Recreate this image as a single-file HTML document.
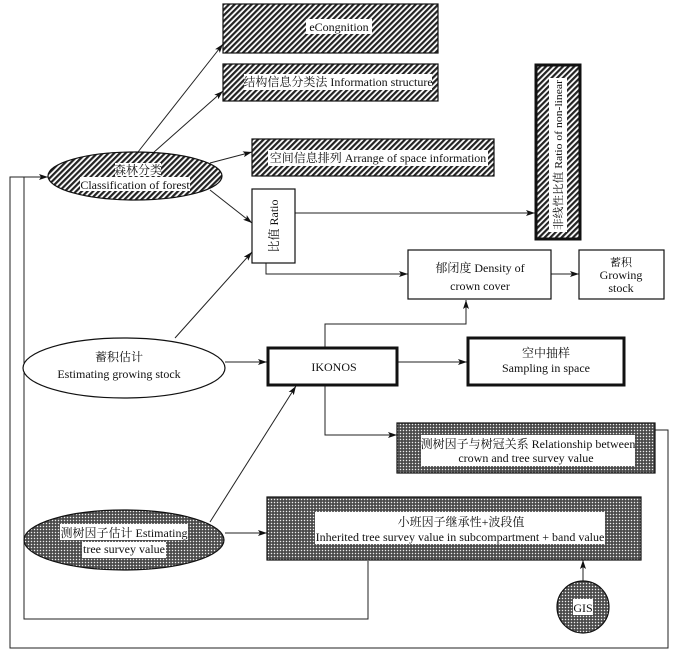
<!DOCTYPE html>
<html><head><meta charset="utf-8"><style>
html,body{margin:0;padding:0;background:#fff}
text{font-family:"Liberation Serif","Noto Serif CJK SC",serif;fill:#111}
</style></head><body>
<svg width="680" height="658" viewBox="0 0 680 658" xmlns="http://www.w3.org/2000/svg">
<defs>
<pattern id="h" width="4" height="4" patternUnits="userSpaceOnUse" patternTransform="rotate(45)">
<rect width="4" height="4" fill="#fff"/><rect width="2.2" height="4" fill="#222"/></pattern>
<pattern id="g" width="3" height="3" patternUnits="userSpaceOnUse">
<rect width="3" height="3" fill="#444"/><rect x="0.8" y="0.8" width="1.4" height="1.4" fill="#eee"/></pattern>
<marker id="a" markerWidth="10" markerHeight="8" refX="9" refY="4" orient="auto" markerUnits="userSpaceOnUse">
<path d="M0,1 L9,4 L0,7 L2,4z" fill="#111"/></marker>
</defs>
<g stroke="#222" stroke-width="1" fill="none">
<polyline points="655,430 668,430 668,648 10,648 10,177 48,177" marker-end="url(#a)"/>
<polyline points="368,561 368,619 24,619 24,177"/>
<line x1="138" y1="152" x2="223" y2="44" marker-end="url(#a)"/>
<line x1="153" y1="153" x2="223" y2="91" marker-end="url(#a)"/>
<line x1="210" y1="163" x2="252" y2="152" marker-end="url(#a)"/>
<line x1="210" y1="190" x2="252" y2="223" marker-end="url(#a)"/>
<line x1="175" y1="338" x2="252" y2="252" marker-end="url(#a)"/>
<line x1="295" y1="213" x2="535" y2="213" marker-end="url(#a)"/>
<polyline points="266,263 266,274 408,274" marker-end="url(#a)"/>
<line x1="551" y1="274" x2="579" y2="274" marker-end="url(#a)"/>
<polyline points="325,348 325,324 466,324 466,300" marker-end="url(#a)"/>
<line x1="225" y1="362" x2="267" y2="362" marker-end="url(#a)"/>
<line x1="397" y1="362" x2="467" y2="362" marker-end="url(#a)"/>
<polyline points="325,385 325,435 397,435" marker-end="url(#a)"/>
<line x1="210" y1="522" x2="296" y2="386" marker-end="url(#a)"/>
<line x1="225" y1="533" x2="267" y2="533" marker-end="url(#a)"/>
<line x1="583" y1="582" x2="583" y2="560" marker-end="url(#a)"/>
</g>
<g stroke="#111" stroke-width="1.2">
<rect x="223" y="4" width="215" height="49" fill="url(#h)"/>
<rect x="223" y="64" width="215" height="37" fill="url(#h)"/>
<rect x="252" y="139" width="242" height="37" fill="url(#h)"/>
<rect x="536" y="65" width="44" height="174" fill="url(#h)" stroke-width="3"/>
<ellipse cx="135" cy="176" rx="87" ry="24" fill="url(#h)"/>
<rect x="252" y="189" width="43" height="74" fill="#fff"/>
<rect x="408" y="250" width="143" height="49" fill="#fff"/>
<rect x="579" y="250" width="85" height="49" fill="#fff"/>
<ellipse cx="124" cy="368" rx="101" ry="30" fill="#fff"/>
<rect x="268" y="348" width="129" height="37" fill="#fff" stroke-width="3"/>
<rect x="468" y="338" width="156" height="47" fill="#fff" stroke-width="3"/>
<rect x="397" y="423" width="258" height="50" fill="url(#g)"/>
<rect x="267" y="497" width="374" height="63" fill="url(#g)"/>
<ellipse cx="124" cy="540" rx="100" ry="30" fill="url(#g)"/>
<circle cx="583" cy="607" r="26" fill="url(#g)"/>
</g>
<g fill="#fff">
<rect x="306" y="19" width="66" height="15"/>
<rect x="244" y="74" width="188" height="16"/>
<rect x="268" y="150" width="220" height="16"/>
<rect x="115" y="163" width="46" height="13"/>
<rect x="80" y="177" width="110" height="14"/>
<rect x="549" y="78" width="18" height="154"/>
<rect x="421" y="435" width="214" height="31"/>
<rect x="315" y="512" width="290" height="32"/>
<rect x="60" y="524" width="128" height="16"/>
<rect x="82" y="542" width="84" height="16"/>
<rect x="573" y="599" width="20" height="16"/>
</g>
<g font-size="12" text-anchor="middle">
<text x="339" y="31">eCongnition</text>
<text x="338" y="86">结构信息分类法 Information structure</text>
<text x="378" y="162">空间信息排列 Arrange of space information</text>
<text x="138" y="174">森林分类</text>
<text x="135" y="189">Classification of forest</text>
<text transform="translate(278,226) rotate(-90)">比值 Ratio</text>
<text transform="translate(562,155) rotate(-90)" font-size="11" textLength="150" lengthAdjust="spacingAndGlyphs">非线性比值 Ratio of non-linear</text>
<text x="480" y="272">郁闭度 Density of</text>
<text x="480" y="290">crown cover</text>
<text x="621" y="266" font-size="11">蓄积</text>
<text x="621" y="279">Growing</text>
<text x="621" y="292">stock</text>
<text x="119" y="361">蓄积估计</text>
<text x="119" y="378">Estimating growing stock</text>
<text x="334" y="371">IKONOS</text>
<text x="546" y="357">空中抽样</text>
<text x="546" y="372">Sampling in space</text>
<text x="528" y="448">测树因子与树冠关系 Relationship between</text>
<text x="526" y="462">crown and tree survey value</text>
<text x="461" y="526">小班因子继承性+波段值</text>
<text x="460" y="541">Inherited  tree survey value in subcompartment + band value</text>
<text x="124" y="537">测树因子估计 Estimating</text>
<text x="124" y="553">tree survey value</text>
<text x="583" y="612">GIS</text>
</g>
</svg>
</body></html>
